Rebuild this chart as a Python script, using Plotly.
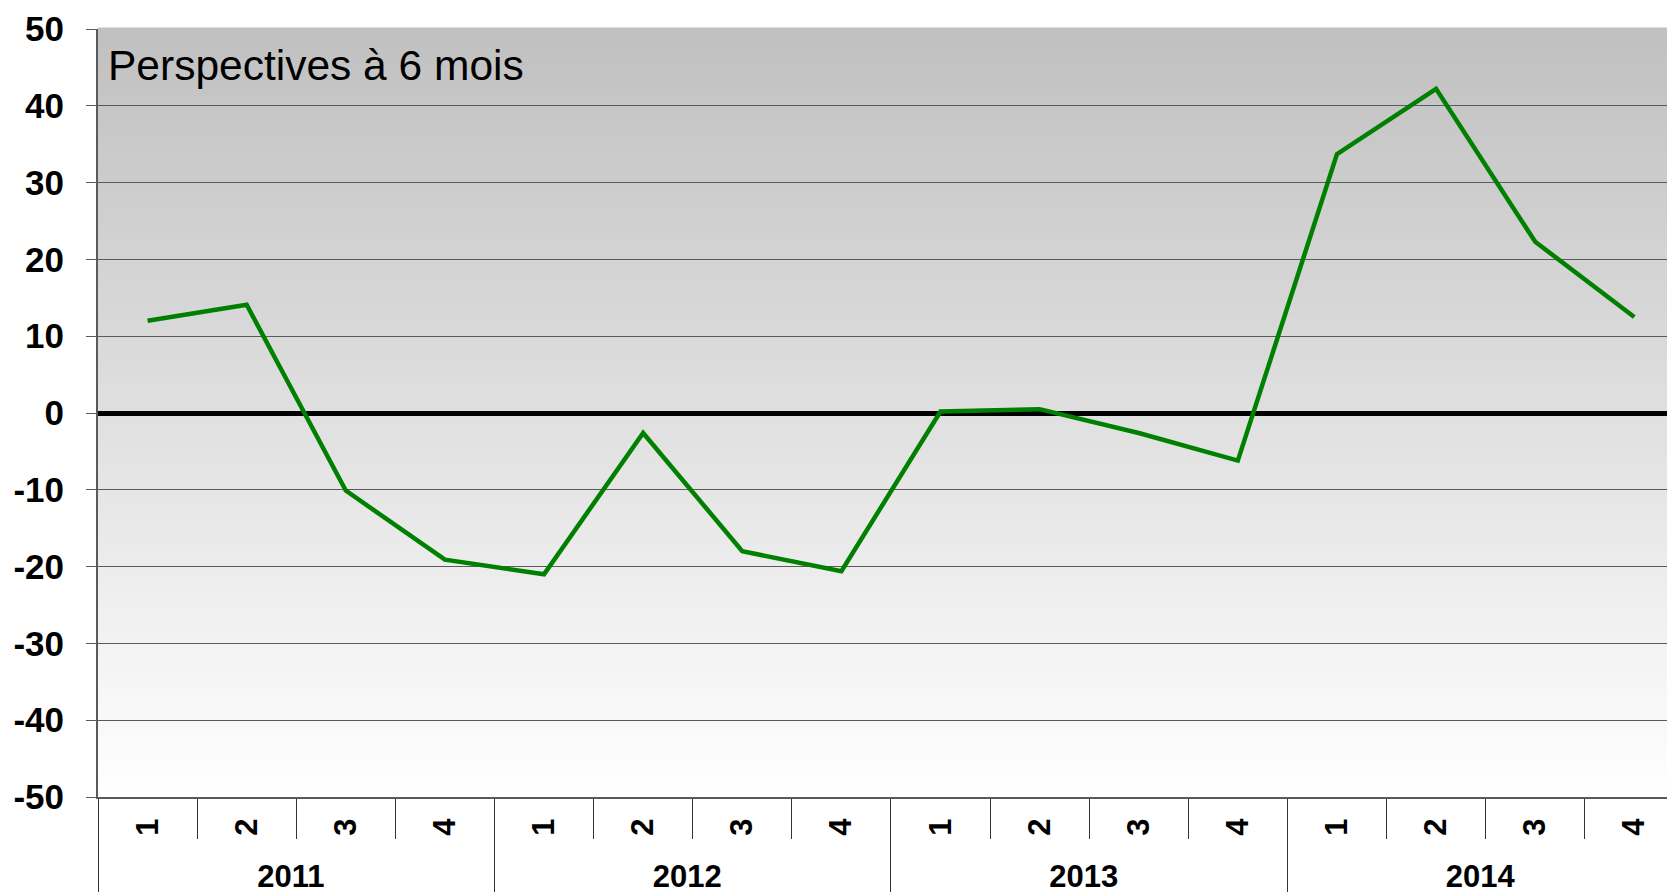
import plotly.graph_objects as go

# data
years = ["2011", "2012", "2013", "2014"]
quarters = ["1", "2", "3", "4"]
values = [12.0, 14.1, -10.1, -19.1,
          -21.0, -2.6, -18.0, -20.6,
          0.2, 0.5, -2.6, -6.2,
          33.7, 42.2, 22.3, 12.5]
y_ticks = [50, 40, 30, 20, 10, 0, -10, -20, -30, -40, -50]
title_text = "Perspectives à 6 mois"

x_years = [y for y in years for q in quarters]
x_quarters = [q for y in years for q in quarters]

FONT = "Arial, Liberation Sans, sans-serif"

fig = go.Figure()

fig.add_trace(go.Scatter(
    x=[x_years, x_quarters],
    y=values,
    mode="lines",
    line=dict(color="#008000", width=4.5),
    showlegend=False,
))

# grey-to-white vertical gradient behind the grid
n_bands = 80
shapes = []
for i in range(n_bands):
    t = (i + 0.5) / n_bands  # 0 at bottom, 1 at top
    c = int(round(255 - (255 - 192) * t))
    shapes.append(dict(
        type="rect", xref="x domain", yref="y domain",
        x0=0, x1=1, y0=i / n_bands, y1=(i + 1) / n_bands + 0.002,
        fillcolor=f"rgb({c},{c},{c})", line=dict(width=0), layer="below",
    ))

fig.update_layout(
    width=1667, height=892,
    margin=dict(l=98, r=0, t=29, b=95),
    plot_bgcolor="white", paper_bgcolor="white",
    font=dict(family=FONT, color="black"),
    shapes=shapes,
    annotations=[dict(
        text=title_text, xref="x domain", yref="y",
        x=0.005, y=45.3, xanchor="left", yanchor="middle",
        showarrow=False, font=dict(family=FONT, size=42.5, color="black"),
    )],
)

fig.update_yaxes(
    range=[-50, 50], tickvals=y_ticks, ticktext=[str(v) for v in y_ticks],
    tickfont=dict(family=FONT, size=35, color="black", weight="bold"),
    showgrid=True, gridcolor="#5a5a5a", gridwidth=1,
    zeroline=True, zerolinecolor="black", zerolinewidth=5,
    showline=True, linecolor="#5a5a5a", linewidth=2,
    ticks="outside", ticklen=10, tickcolor="#5a5a5a", ticklabelstandoff=15,
    automargin=False,
)

fig.update_xaxes(
    type="multicategory",
    range=[-0.5, 15.33],
    tickangle=-90,
    tickfont=dict(family=FONT, size=31, color="black", weight="bold"),
    showline=True, linecolor="#5a5a5a", linewidth=2,
    ticks="outside", ticklen=40, tickcolor="#333333", tickwidth=1,
    tickson="boundaries", ticklabelstandoff=7,
    showdividers=True, dividercolor="#333333", dividerwidth=1,
    showgrid=False, automargin=False,
)

# drop the browser's default body margin so the figure fills the window
fig.write_html("out.html", config={"displayModeBar": False},
               post_script="document.body.style.margin='0';")
